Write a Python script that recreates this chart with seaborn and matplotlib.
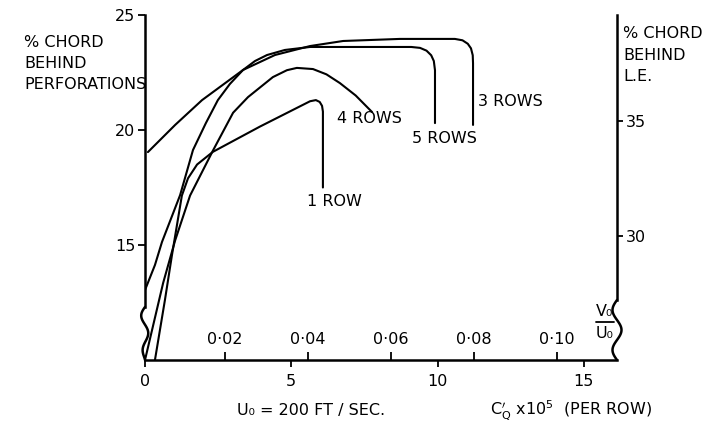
import numpy as np
import pandas as pd
import matplotlib
matplotlib.use("Agg")
import matplotlib.pyplot as plt
from matplotlib.lines import Line2D
import seaborn as sns

# ---------------- data ----------------
# x: C'_Q x 10^5 (per row), y: % chord behind perforations
row1_x = [0.34, 0.68, 0.92, 1.09, 1.26, 1.47, 1.78, 2.32, 3.93, 5.64, 5.84, 5.97, 6.05, 6.08, 6.08]
row1_y = [10.0, 12.6, 14.55, 15.85, 17.15, 17.9, 18.5, 19.05, 20.15, 21.25, 21.3, 21.22, 21.05, 20.8, 17.5]

row4_x = [0.0, 0.62, 1.03, 1.54, 2.32, 3.01, 3.52, 4.37, 4.85, 5.19, 5.74, 6.2, 6.66, 7.2, 7.76]
row4_y = [10.0, 13.35, 15.2, 17.15, 19.1, 20.75, 21.43, 22.3, 22.6, 22.7, 22.65, 22.42, 22.04, 21.5, 20.78]

row5_x = [0.0, 0.34, 0.58, 1.2, 1.64, 2.08, 2.49, 2.9, 3.35, 3.76, 4.17, 4.78, 5.64, 9.1, 9.4, 9.62, 9.78, 9.87, 9.91, 9.91]
row5_y = [13.04, 14.13, 15.13, 17.17, 19.13, 20.3, 21.3, 22.0, 22.61, 23.0, 23.26, 23.48, 23.61, 23.61, 23.57, 23.45, 23.25, 23.0, 22.6, 20.3]

row3_x = [0.1, 1.03, 1.95, 3.35, 4.44, 5.64, 6.77, 8.71, 10.59, 10.85, 11.03, 11.14, 11.2, 11.21, 11.21]
row3_y = [19.04, 20.22, 21.3, 22.61, 23.26, 23.65, 23.87, 23.96, 23.96, 23.9, 23.75, 23.55, 23.25, 22.9, 20.22]

series_names = ["1 ROW", "4 ROWS", "5 ROWS", "3 ROWS"]
label_x = [5.53, 6.56, 9.12, 11.38]
label_y = [16.87, 20.48, 19.65, 21.22]

left_ticks = [15, 20, 25]
right_ticks = [30, 35]
right_offset = 14.6          # % chord behind L.E. = left value + offset
x_ticks = [0, 5, 10, 15]
vu_ticks = [0.02, 0.04, 0.06, 0.08, 0.10]
vu_labels = ["0·02", "0·04", "0·06", "0·08", "0·10"]

# ---------------- build table ----------------
frames = []
for name, xs, ys in zip(series_names,
                        [row1_x, row4_x, row5_x, row3_x],
                        [row1_y, row4_y, row5_y, row3_y]):
    frames.append(pd.DataFrame({"cq": xs, "chord": ys, "series": name}))
df = pd.concat(frames, ignore_index=True)

sns.set_style("ticks")
plt.rcParams['font.family'] = ['DejaVu Sans']
for k in ["text.color", "axes.labelcolor", "xtick.color", "ytick.color", "axes.edgecolor"]:
    plt.rcParams[k] = "black"
FS = 11.5
LW = 1.5

fig = plt.figure(figsize=(7.26, 4.33), dpi=100)
ax = fig.add_axes([145/726, 1-360/433, (617-145)/726, 345/433])

sns.lineplot(data=df, x="cq", y="chord", hue="series", estimator=None, sort=False,
             palette={n: "black" for n in series_names}, legend=False, lw=LW, ax=ax)

ax.set_xlim(0, 16.13)
ax.set_ylim(10, 25)
ax.set_xlabel("")
ax.set_ylabel("")
ax.set_xticks(x_ticks)
ax.set_xticklabels([str(t) for t in x_ticks])
ax.set_yticks(left_ticks)
ax.tick_params(axis="both", direction="out", length=5, width=1.3, labelsize=FS, color="black")
ax.tick_params(axis="x", pad=5)
ax.tick_params(axis="y", pad=2)
for s in ["top", "right"]:
    ax.spines[s].set_visible(False)
for s in ["left", "bottom"]:
    ax.spines[s].set_linewidth(1.8)
    ax.spines[s].set_color("black")
ax.spines["left"].set_bounds(12.3, 25)

# curve labels
for name, lx, ly in zip(series_names, label_x, label_y):
    ax.text(lx, ly, name, fontsize=FS, ha="left", va="center")

# right axis
ax2 = ax.twinx()
ax2.set_ylim(10 + right_offset, 25 + right_offset)
ax2.set_yticks(right_ticks)
ax2.tick_params(axis="y", direction="out", length=4, width=1.3, labelsize=FS, pad=2)
for s in ["top", "left", "bottom"]:
    ax2.spines[s].set_visible(False)
ax2.spines["right"].set_linewidth(1.8)
ax2.spines["right"].set_bounds(27.2, 25 + right_offset)

# secondary V0/U0 scale along the bottom
def cq_to_vu(x):
    return (np.asarray(x) + 0.09) / 141.6

def vu_to_cq(v):
    return np.asarray(v) * 141.6 - 0.09

sec = ax.secondary_xaxis(0, functions=(cq_to_vu, vu_to_cq))
sec.set_xticks(vu_ticks, labels=vu_labels)
sec.xaxis.set_ticks_position("top")
sec.tick_params(axis="x", direction="out", length=6, width=1.3, labelsize=FS, pad=3,
                labeltop=True, labelbottom=False)
for sp in sec.spines.values():
    sp.set_visible(False)

# axis-break waves (decoration)
W = 472.0
H = 345.0
t = np.linspace(0, 1, 60)
ly_ = (53 - 53 * t) / H
lx_ = (-4.0 * np.sin(2 * np.pi * 1.5 * t) * (1 - t) ** 0.3) / W
ax.plot(lx_, ly_, transform=ax.transAxes, clip_on=False, color="black", lw=1.8)
ry_ = (60 - 60 * t) / H
rx_ = 1 + (-4.5 * np.sin(2 * np.pi * 1.5 * t)) / W
ax.plot(rx_, ry_, transform=ax.transAxes, clip_on=False, color="black", lw=1.8)

# axis titles
fig.text(24/726, 1-35/433, "% CHORD\nBEHIND\nPERFORATIONS", fontsize=FS, ha="left", va="top",
         linespacing=1.5)
fig.text(623/726, 1-26/433, "% CHORD\nBEHIND\nL.E.", fontsize=FS, ha="left", va="top",
         linespacing=1.55)
# V0 / U0 fraction
fig.text(605/726, 1-311/433, "V₀", fontsize=FS, ha="center", va="center")
fig.text(605/726, 1-333/433, "U₀", fontsize=FS, ha="center", va="center")
fig.add_artist(Line2D([596/726, 614/726], [1-322/433, 1-322/433], color="black", lw=1.3))

fig.text(237/726, 1-410/433, "U₀ = 200 FT / SEC.", fontsize=FS, ha="left", va="center")
fig.text(490/726, 1-410/433, r"$\mathrm{C^{\prime}_{Q}}$ x10$^{5}$  (PER ROW)", fontsize=FS,
         ha="left", va="center")

fig.savefig("out.png", dpi=100)
